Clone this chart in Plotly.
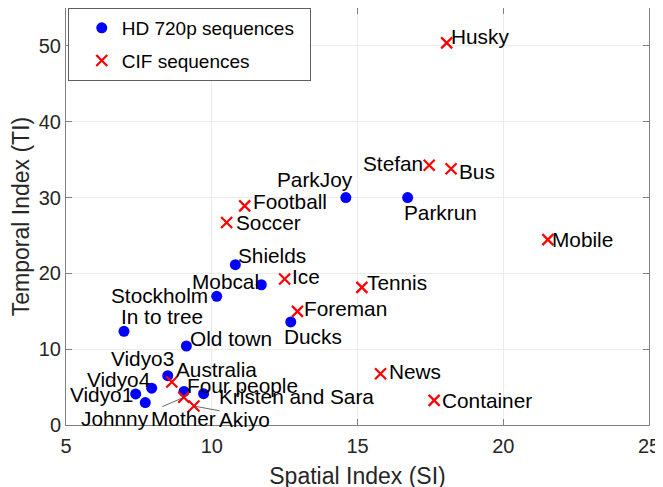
import plotly.graph_objects as go

# ---- data ----
hd_names = ["ParkJoy", "Parkrun", "Shields", "Mobcal", "Stockholm", "In to tree",
            "Old town", "Ducks", "Vidyo3", "Vidyo4", "Vidyo1", "Johnny",
            "Four people", "Kristen and Sara"]
hd_si = [14.6, 16.72, 10.81, 11.70, 10.17, 6.99, 9.13, 12.71, 8.49, 7.94, 7.39, 7.72, 9.05, 9.72]
hd_ti = [30.0, 30.0, 21.15, 18.5, 16.97, 12.35, 10.42, 13.59, 6.5, 4.85, 4.1, 2.96, 4.43, 4.13]

cif_names = ["Husky", "Stefan", "Bus", "Mobile", "Football", "Soccer", "Ice",
             "Foreman", "Tennis", "News", "Container", "Australia", "Mother", "Akiyo"]
cif_si = [18.06, 17.46, 18.21, 21.53, 11.13, 10.51, 12.50, 12.94, 15.15, 15.79, 17.63, 8.63, 9.04, 9.39]
cif_ti = [50.4, 34.25, 33.8, 24.45, 28.9, 26.7, 19.26, 14.99, 18.15, 6.77, 3.25, 5.67, 3.65, 2.5]

x_ticks = [5, 10, 15, 20, 25]
y_ticks = [0, 10, 20, 30, 40, 50]

# ---- label placement (anchor, dx px, dy px downward) ----
placement = {
    "Husky": ("left", 5, -6), "Stefan": ("right", -7, -2), "Bus": ("left", 9, 3),
    "ParkJoy": ("right", 6, -18), "Parkrun": ("left", -3, 15), "Mobile": ("left", 5, 0),
    "Football": ("left", 9, -4), "Soccer": ("left", 10, 0), "Shields": ("left", 4, -9),
    "Mobcal": ("right", -3, -3), "Ice": ("left", 8, -2), "Stockholm": ("right", -10, -1),
    "Foreman": ("left", 8, -3), "Tennis": ("left", 6, -5), "In to tree": ("left", -2, -15),
    "Old town": ("left", 5, -8), "Ducks": ("left", -6, 15), "Vidyo3": ("right", 5, -17),
    "Australia": ("left", 5, -13), "Vidyo4": ("right", -3, -9), "Vidyo1": ("right", -4, 1),
    "Four people": ("left", 4, -6), "Kristen and Sara": ("left", 16, 3),
    "Johnny": ("right", 3, 16), "Mother": ("center", 0, 21), "Akiyo": ("left", 26, 13),
    "News": ("left", 9, -2), "Container": ("left", 9, 0),
}
leaders = {"Mother": (-23, 10), "Akiyo": (27, 5)}
BOX_PAD = 3  # annotation box padding compensation

FONT = "Arial, Liberation Sans, Helvetica, sans-serif"

fig = go.Figure()
fig.add_trace(go.Scatter(
    x=hd_si, y=hd_ti, mode="markers", name="HD 720p sequences\u00a0\u00a0",
    legendgroup="hd",
    marker=dict(symbol="circle", size=11, color="#0000ff"),
))
fig.add_trace(go.Scatter(
    x=cif_si, y=cif_ti, mode="markers", name="CIF sequences",
    legendgroup="cif",
    marker=dict(symbol="x-thin", size=11, color="#ff0000",
                line=dict(color="#ff0000", width=2.2)),
))

annotations = []
for names, xs, ys in ((hd_names, hd_si, hd_ti), (cif_names, cif_si, cif_ti)):
    for n, xv, yv in zip(names, xs, ys):
        anchor, dx, dy = placement[n]
        if anchor == "left":
            dx -= BOX_PAD
        elif anchor == "right":
            dx += BOX_PAD
        annotations.append(dict(
            x=xv, y=yv, xref="x", yref="y", text=n, showarrow=False,
            xanchor=anchor, yanchor="middle", xshift=dx, yshift=-dy,
            font=dict(family=FONT, size=20.8, color="#000000"),
        ))
        if n in leaders:
            ax, ay = leaders[n]
            annotations.append(dict(
                x=xv, y=yv, xref="x", yref="y", text=" ", showarrow=True,
                arrowhead=0, arrowwidth=0.8, arrowcolor="#404040",
                ax=ax, ay=ay, standoff=0, font=dict(size=1),
            ))

axis_common = dict(
    showline=True, linecolor="#808080", linewidth=1, mirror="ticks",
    ticks="inside", ticklen=6, tickcolor="#808080", automargin=False,
    showgrid=True, gridcolor="#ebebeb", gridwidth=1, zeroline=False,
    tickfont=dict(family=FONT, size=20, color="#262626"),
)

# the page body adds an 8px offset; margins compensate for it
fig.update_layout(
    width=663, height=487,
    margin=dict(l=58, r=22, t=0, b=70),
    paper_bgcolor="white", plot_bgcolor="white",
    xaxis=dict(range=[5, 25], tickvals=x_ticks, ticklabelstandoff=3,
               title=dict(text="Spatial Index (SI)", standoff=11,
                          font=dict(family=FONT, size=23, color="#262626")),
               **axis_common),
    yaxis=dict(range=[0, 55], tickvals=y_ticks,
               title=dict(text="Temporal Index (TI)", standoff=10,
                          font=dict(family=FONT, size=23, color="#262626")),
               **axis_common),
    legend=dict(x=0.003, y=1, xanchor="left", yanchor="top",
                bgcolor="white", bordercolor="#606060", borderwidth=1,
                font=dict(family=FONT, size=19, color="#000000"),
                indentation=13, tracegroupgap=5),
    annotations=annotations,
    showlegend=True,
)

fig.write_html("out.html")
